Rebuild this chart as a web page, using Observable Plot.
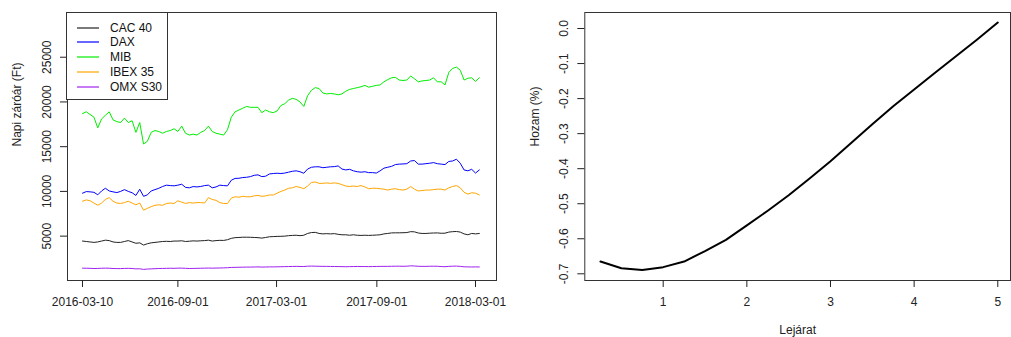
<!DOCTYPE html>
<html>
<head>
<meta charset="utf-8">
<script src="https://cdn.jsdelivr.net/npm/d3@7"></script>
<script src="https://cdn.jsdelivr.net/npm/@observablehq/plot@0.6"></script>
<style>
  body { margin: 0; background: #fff; }
  #wrap { position: relative; width: 1011px; height: 337px; overflow: hidden; font-family: "Liberation Sans", Arial, sans-serif; }
  #left, #right { position: absolute; top: 0; }
  #left { left: 0; }
  #right { left: 505px; }
  #wrap svg { overflow: visible; max-width: none; }
  #legend { position: absolute; left: 66px; top: 12px; width: 102px; height: 88px; box-sizing: border-box; border: 1px solid #333; background: #fff; font-size: 12px; color: #111; }
  .item { position: absolute; left: 0; height: 14px; line-height: 14px; white-space: nowrap; }
  .item svg { position: absolute; left: 10px; top: 6px; }
  .item span { position: absolute; left: 43px; top: 0; }
</style>
</head>
<body>
<div id="wrap"><div id="left"></div><div id="right"></div><div id="legend"></div></div>
<script>
// ---------- Left chart data (weekly samples) ----------
const startDate = "2016-03-10";
const names = ["CAC 40", "DAX", "MIB", "IBEX 35", "OMX S30"];
const colors = ["#222222", "#0000ff", "#00ee00", "#ffa500", "#a020f0"];

const cac = [4450, 4400, 4350, 4300, 4350, 4450, 4550, 4500, 4350, 4300,
  4300, 4400, 4500, 4350, 4200, 4250, 4000, 4150, 4250, 4300,
  4350, 4400, 4420, 4400, 4450, 4450, 4480, 4400, 4430, 4470,
  4450, 4480, 4500, 4550, 4450, 4500, 4530, 4520, 4600, 4750,
  4830, 4850, 4880, 4880, 4870, 4850, 4830, 4780, 4850, 4930,
  4950, 4970, 4980, 5000, 5050, 5080, 5100, 5050, 5100, 5300,
  5400, 5420, 5300, 5250, 5280, 5250, 5280, 5200, 5150, 5150,
  5100, 5150, 5100, 5080, 5100, 5080, 5100, 5120, 5150, 5250,
  5300, 5360, 5370, 5370, 5380, 5400, 5500, 5480, 5350, 5300,
  5300, 5330, 5350, 5360, 5320, 5330, 5450, 5500, 5520, 5450,
  5250, 5150, 5300, 5250, 5300];

const dax = [9800, 9980, 9950, 9900, 9620, 10050, 10350, 10050, 9950, 9870,
  10000, 10200, 10000, 9850, 9550, 10240, 9450, 9610, 10050, 10200,
  10350, 10550, 10700, 10650, 10620, 10700, 10800, 10450, 10400, 10540,
  10500, 10550, 10650, 10700, 10400, 10500, 10700, 10650, 10620, 11250,
  11450, 11470, 11550, 11580, 11650, 11800, 11850, 11650, 11700, 11950,
  12000, 12030, 12000, 12050, 12150, 12250, 12300, 12200, 12030, 12500,
  12700, 12750, 12750, 12650, 12700, 12750, 12770, 12850, 12500, 12400,
  12470, 12300, 12200, 12150, 12200, 12100, 12100, 12050, 12300, 12600,
  12700, 12800, 13000, 13050, 13070, 13100, 13400, 13450, 13050, 13050,
  13100, 13150, 13220, 13100, 13050, 13000, 13350, 13400, 13600, 13150,
  12400, 12300, 12470, 12050, 12400];

const mib = [18700, 18900, 18600, 18300, 17100, 18100, 18500, 18900, 18000, 17800,
  17700, 18200, 17700, 17900, 16600, 17700, 15300, 15600, 16600, 16800,
  16700, 16500, 16700, 16800, 17000, 16700, 17300, 16500, 16300, 16400,
  16300, 16600, 16800, 17300, 16700, 16500, 16400, 16300, 16900, 18300,
  18900, 19100, 19300, 19500, 19400, 19400, 19400, 18800, 19100, 18900,
  18800, 19000, 19600, 19800, 20200, 20400, 20300, 20000, 19500, 20700,
  21300, 21600, 21500, 21000, 20900, 20950, 20900, 20800, 20900, 21200,
  21400, 21500, 21600, 21700, 21850, 21650, 21750, 21850, 21900, 22250,
  22500, 22700, 22750, 22450, 22400, 22450, 22900, 22600, 22250, 22350,
  22400, 22450, 22700, 22250, 22250, 21900, 23300, 23750, 23900, 23550,
  22450, 22650, 22700, 22300, 22700];

const ibex = [8900, 9050, 8950, 8700, 8450, 8700, 9100, 9300, 8900, 8700,
  8650, 8750, 8900, 8700, 8500, 8700, 7900, 8100, 8300, 8450,
  8500, 8450, 8650, 8700, 8650, 8950, 8800, 8650, 8750, 8700,
  8750, 8750, 8700, 9300, 9100, 9000, 8750, 8650, 8650, 9250,
  9400, 9350, 9450, 9400, 9400, 9500, 9550, 9450, 9500, 9600,
  9600, 9800, 10000, 10150, 10350, 10400, 10550, 10450, 10300, 10600,
  11000, 11050, 10900, 10900, 10950, 10900, 10950, 10900, 10750, 10600,
  10550, 10600, 10550, 10650, 10500, 10300, 10350, 10350, 10300, 10250,
  10150, 10250, 10300, 10200, 10150, 10250, 10550, 10250, 10050, 10100,
  10150, 10150, 10200, 10250, 10250, 10150, 10400, 10550, 10650, 10400,
  9900, 9700, 9850, 9800, 9600];

const omx = [1420, 1410, 1400, 1380, 1390, 1410, 1420, 1410, 1380, 1370,
  1370, 1390, 1400, 1380, 1340, 1350, 1280, 1320, 1340, 1360,
  1380, 1390, 1400, 1410, 1400, 1420, 1420, 1400, 1380, 1390,
  1400, 1410, 1420, 1430, 1420, 1430, 1440, 1450, 1470, 1500,
  1510, 1520, 1530, 1540, 1540, 1550, 1560, 1540, 1550, 1560,
  1560, 1570, 1580, 1590, 1600, 1610, 1620, 1610, 1600, 1640,
  1650, 1640, 1630, 1620, 1620, 1610, 1600, 1600, 1590, 1580,
  1590, 1600, 1610, 1600, 1600, 1590, 1600, 1610, 1620, 1620,
  1620, 1630, 1640, 1640, 1630, 1640, 1680, 1660, 1630, 1620,
  1620, 1630, 1640, 1630, 1600, 1580, 1620, 1640, 1650, 1620,
  1570, 1560, 1550, 1560, 1550];

const xTickLabelsLeft = ["2016-03-10", "2016-09-01", "2017-03-01", "2017-09-01", "2018-03-01"];
const yTicksLeft = [5000, 10000, 15000, 20000, 25000];
const yLabelLeft = "Napi záróár (Ft)";

// ---------- Right chart data ----------
const maturity = [0.25, 0.5, 0.75, 1, 1.25, 1.5, 1.75, 2, 2.25, 2.5, 2.75, 3, 3.25, 3.5, 3.75, 4, 4.25, 4.5, 4.75, 5];
const yieldPct = [-0.665, -0.684, -0.689, -0.681, -0.665, -0.635, -0.603, -0.562, -0.52, -0.476, -0.428, -0.379, -0.326, -0.273, -0.222, -0.174, -0.126, -0.079, -0.032, 0.017];
const xTicksRight = [1, 2, 3, 4, 5];
const yTicksRight = [-0.7, -0.6, -0.5, -0.4, -0.3, -0.2, -0.1, 0.0];
const xLabelRight = "Lejárat";
const yLabelRight = "Hozam (%)";

// ---------- Build tables ----------
const series = [cac, dax, mib, ibex, omx];
const start = new Date(startDate + "T00:00:00Z");
const dates = cac.map((_, i) => d3.utcDay.offset(start, 7 * i));
const rows = [];
names.forEach((n, k) => series[k].forEach((v, i) => rows.push({date: dates[i], value: v, name: n})));
const xTicksLeft = xTickLabelsLeft.map(s => new Date(s + "T00:00:00Z"));
const curve = maturity.map((m, i) => ({m, y: yieldPct[i]}));

const font = '"Liberation Sans", Arial, sans-serif';

const left = Plot.plot({
  width: 505, height: 337,
  marginLeft: 67, marginRight: 9, marginTop: 12, marginBottom: 57,
  style: {fontFamily: font, fontSize: "12px", color: "#222", background: "transparent", overflow: "visible"},
  x: {type: "utc", domain: [new Date("2016-02-11T12:00:00Z"), new Date("2018-04-08T12:00:00Z")]},
  y: {domain: [40, 30000]},
  color: {domain: names, range: colors},
  marks: [
    Plot.line(rows, {x: "date", y: "value", z: "name", stroke: "name", strokeWidth: 1}),
    Plot.frame({stroke: "#333"}),
    Plot.axisX(xTicksLeft, {tickSize: 7, tickPadding: 10, tickFormat: d3.utcFormat("%Y-%m-%d"), label: null, fontSize: 12}),
    Plot.axisY(yTicksLeft, {tickSize: 7, tickPadding: 10, tickRotate: -90, tickFormat: d => String(d), label: null, fontSize: 12}),
    Plot.text([yLabelLeft], {frameAnchor: "left", dx: -50, rotate: -90, fontSize: 12, fill: "#222"})
  ]
});
document.getElementById("left").appendChild(left);

const right = Plot.plot({
  width: 506, height: 337,
  marginLeft: 79.3, marginRight: 1, marginTop: 12, marginBottom: 57,
  style: {fontFamily: font, fontSize: "12px", color: "#222", background: "transparent", overflow: "visible"},
  x: {domain: [0.0627, 5.152]},
  y: {domain: [-0.7191, 0.0457]},
  marks: [
    Plot.line(curve, {x: "m", y: "y", stroke: "#000", strokeWidth: 2}),
    Plot.frame({stroke: "#333"}),
    Plot.axisX(xTicksRight, {tickSize: 7, tickPadding: 10, tickFormat: d => String(d), label: null, fontSize: 12}),
    Plot.axisY(yTicksRight, {tickSize: 7, tickPadding: 10, tickRotate: -90, tickFormat: d => d.toFixed(1), label: null, fontSize: 12}),
    Plot.text([yLabelRight], {frameAnchor: "left", dx: -49.3, rotate: -90, fontSize: 12, fill: "#222"}),
    Plot.text([xLabelRight], {frameAnchor: "bottom", dy: 53, fontSize: 12, fill: "#222"})
  ]
});
document.getElementById("right").appendChild(right);

// ---------- Legend ----------
const legend = document.getElementById("legend");
names.forEach((n, i) => {
  const item = document.createElement("div");
  item.className = "item";
  item.style.top = (7.5 + i * 14.75) + "px";
  item.style.width = "100px";
  item.innerHTML = `<svg width="22" height="2"><line x1="0" x2="22" y1="1" y2="1" stroke="${colors[i]}" stroke-width="1.2"/></svg><span>${n}</span>`;
  legend.appendChild(item);
});
</script>
</body>
</html>
